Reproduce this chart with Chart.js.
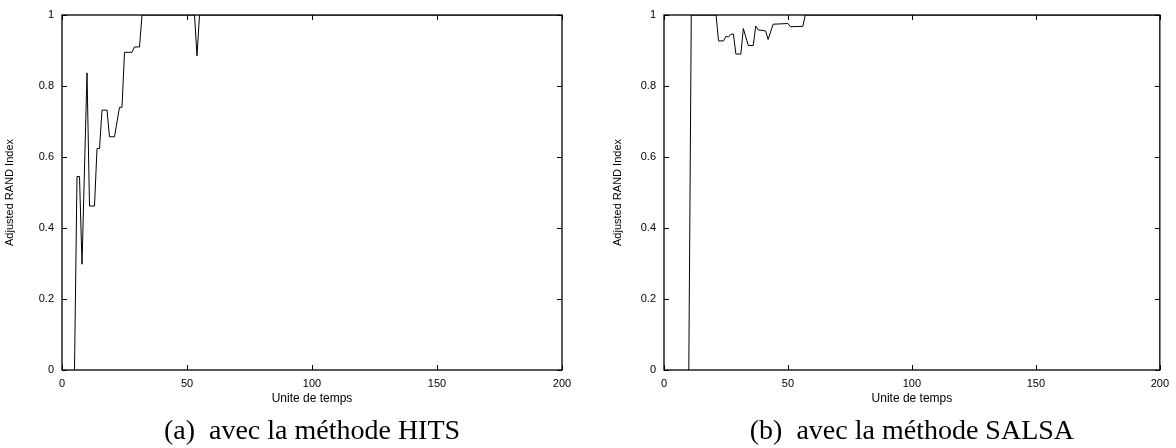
<!DOCTYPE html>
<html>
<head>
<meta charset="utf-8">
<script src="https://cdn.jsdelivr.net/npm/chart.js@4/dist/chart.umd.min.js"></script>
<style>
  body { margin: 0; background: #fff; }
  .panels { display: flex; width: 1176px; height: 448px; }
  canvas { display: block; }
</style>
</head>
<body>
<div class="panels">
  <canvas id="hits" width="588" height="448"></canvas>
  <canvas id="salsa" width="588" height="448"></canvas>
</div>
<script>
// Données (temps, Adjusted RAND Index)
const hitsT   = [5, 6, 7, 8, 10, 11, 13, 14, 15, 16, 18, 19, 21, 23, 24, 25, 28, 29, 31, 32, 53, 54, 55, 200];
const hitsARI = [0, 0.545, 0.545, 0.298, 0.837, 0.462, 0.462, 0.624, 0.624, 0.732, 0.732, 0.657, 0.657, 0.74, 0.74, 0.895, 0.895, 0.91, 0.91, 1, 1, 0.885, 1, 1];

const salsaT   = [10, 11, 21, 22, 24, 25, 26, 27, 28, 29, 31, 32, 34, 36, 37, 38, 41, 42, 44, 50, 51, 56, 57, 200];
const salsaARI = [0, 1, 1, 0.927, 0.927, 0.94, 0.938, 0.946, 0.946, 0.89, 0.89, 0.962, 0.914, 0.914, 0.969, 0.958, 0.955, 0.931, 0.974, 0.976, 0.967, 0.968, 1, 1];

const xMin = 0, xMax = 200, xStep = 50;
const yMin = 0, yMax = 1, yStep = 0.2;

const sans = "'Liberation Sans', Arial, sans-serif";
const serif = "'Liberation Serif', 'Times New Roman', serif";

// Cadre complet + graduations vers l'intérieur (style gnuplot)
const framePlugin = {
    id: 'gnuplotFrame',
    afterDatasetsDraw(chart) {
        const { ctx, chartArea: a, scales } = chart;
        const len = 5;
        ctx.save();
        ctx.strokeStyle = '#000';
        ctx.lineWidth = 1;
        ctx.beginPath();
        scales.x.ticks.forEach(t => {
            const px = Math.round(scales.x.getPixelForValue(t.value)) + 0.5;
            ctx.moveTo(px, a.bottom); ctx.lineTo(px, a.bottom - len);
            ctx.moveTo(px, a.top); ctx.lineTo(px, a.top + len);
        });
        scales.y.ticks.forEach(t => {
            const py = Math.round(scales.y.getPixelForValue(t.value)) + 0.5;
            ctx.moveTo(a.left, py); ctx.lineTo(a.left + len, py);
            ctx.moveTo(a.right, py); ctx.lineTo(a.right - len, py);
        });
        ctx.stroke();
        ctx.lineWidth = 1.3;
        ctx.strokeRect(a.left, a.top, a.right - a.left, a.bottom - a.top);
        ctx.restore();
    }
};

// Légende "(a) ..." centrée sous la zone de tracé
const captionPlugin = {
    id: 'caption',
    afterDraw(chart, args, opts) {
        const { ctx, chartArea: a } = chart;
        ctx.save();
        ctx.font = "25px " + serif;
        ctx.font = opts.size + "px " + serif;
        ctx.fillStyle = '#000';
        ctx.textAlign = 'center';
        ctx.textBaseline = 'middle';
        ctx.fillText(opts.text, (a.left + a.right) / 2, opts.y);
        ctx.restore();
    }
};

function makeChart(id, xs, ys, caption, padLeft, yWidth, padRight) {
    const points = xs.map((x, i) => ({ x: x, y: ys[i] }));
    return new Chart(document.getElementById(id), {
        type: 'line',
        data: {
            datasets: [{
                data: points,
                borderColor: '#000',
                borderWidth: 1,
                pointRadius: 0,
                tension: 0,
                fill: false
            }]
        },
        options: {
            responsive: false,
            animation: false,
            devicePixelRatio: 1,
            layout: { padding: { left: padLeft, right: padRight, top: 15, bottom: 37 } },
            plugins: {
                legend: { display: false },
                tooltip: { enabled: false },
                title: { display: false },
                caption: { text: caption, size: 28, y: 432 }
            },
            scales: {
                x: {
                    type: 'linear',
                    min: xMin, max: xMax,
                    grid: { display: false, drawTicks: false },
                    border: { display: false },
                    ticks: {
                        stepSize: xStep, padding: 7, color: '#000',
                        maxRotation: 0,
                        font: { family: sans, size: 11 }
                    },
                    title: {
                        display: true, text: 'Unite de temps', color: '#000',
                        font: { family: sans, size: 12 },
                        padding: { top: 0, bottom: 5 }
                    },
                    afterFit(scale) { scale.height = 41; }
                },
                y: {
                    min: yMin, max: yMax,
                    grid: { display: false, drawTicks: false },
                    border: { display: false },
                    ticks: {
                        stepSize: yStep, padding: 8, color: '#000',
                        font: { family: sans, size: 11 },
                        callback: v => String(+v.toFixed(1))
                    },
                    title: {
                        display: true, text: 'Adjusted RAND Index', color: '#000',
                        font: { family: sans, size: 11 },
                        padding: { top: 3, bottom: 0 }
                    },
                    afterFit(scale) { scale.width = yWidth; }
                }
            }
        },
        plugins: [framePlugin, captionPlugin]
    });
}

makeChart('hits', hitsT, hitsARI, '(a)\u2002avec la méthode HITS', 0, 62, 26);
makeChart('salsa', salsaT, salsaARI, '(b)\u2002avec la méthode SALSA', 20, 56, 13);
</script>
</body>
</html>
